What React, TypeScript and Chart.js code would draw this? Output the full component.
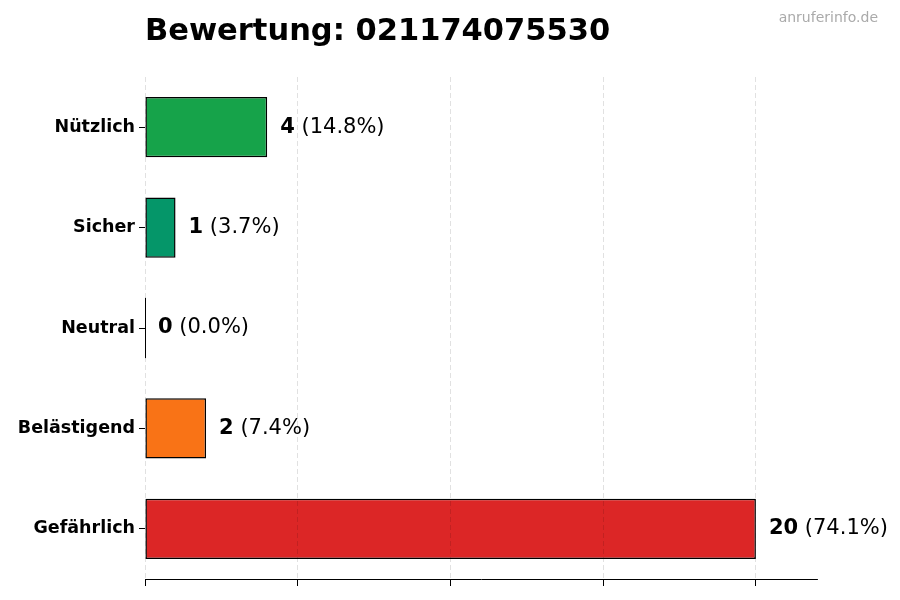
import { useEffect, useRef } from 'react';
import { Chart, registerables } from 'chart.js';

Chart.register(...registerables);

const categories = ['Nützlich', 'Sicher', 'Neutral', 'Belästigend', 'Gefährlich'];
const counts = [4, 1, 0, 2, 20];
const barColors = ['#16a34a', '#059669', '#6b7280', '#f97316', '#dc2626'];
const xTicks = [0, 5, 10, 15, 20];
const titleText = 'Bewertung: 021174075530';
const watermark = 'anruferinfo.de';

const FONT = "'DejaVu Sans', sans-serif";

export default function App() {
  const canvasRef = useRef<HTMLCanvasElement | null>(null);
  const chartRef = useRef<Chart | null>(null);

  useEffect(() => {
    if (!canvasRef.current) return;
    const total = counts.reduce((a, b) => a + b, 0);

    // Title + watermark drawn relative to the chart area
    const headerPlugin = {
      id: 'header',
      afterDraw(chart: any) {
        const { ctx, chartArea } = chart;
        ctx.save();
        ctx.fillStyle = '#000';
        ctx.font = `bold 30.5px ${FONT}`;
        ctx.textBaseline = 'alphabetic';
        ctx.textAlign = 'left';
        ctx.fillText(titleText, chartArea.left, 40);
        ctx.fillStyle = '#aaaaaa';
        ctx.font = `14px ${FONT}`;
        ctx.textAlign = 'right';
        ctx.fillText(watermark, 878, 22);
        ctx.restore();
      }
    };

    // Value labels: bold count + percentage
    const valueLabels = {
      id: 'valueLabels',
      afterDatasetsDraw(chart: any) {
        const { ctx } = chart;
        const meta = chart.getDatasetMeta(0);
        ctx.save();
        meta.data.forEach((bar: any, i: number) => {
          const v = counts[i];
          if (v === 0) {
            // zero-width bar still shows its edge
            ctx.strokeStyle = '#000';
            ctx.lineWidth = 1;
            ctx.beginPath();
            ctx.moveTo(bar.x + 0.5, bar.y - bar.height / 2);
            ctx.lineTo(bar.x + 0.5, bar.y + bar.height / 2);
            ctx.stroke();
          }
          const x = bar.x + 13;
          const num = String(v);
          const pct = ` (${((v / total) * 100).toFixed(1)}%)`;
          ctx.textBaseline = 'middle';
          ctx.textAlign = 'left';
          ctx.fillStyle = '#000';
          ctx.font = `bold 21px ${FONT}`;
          ctx.fillText(num, x, bar.y);
          const w = ctx.measureText(num).width;
          ctx.font = `21px ${FONT}`;
          ctx.fillText(pct, x + w, bar.y);
        });
        ctx.restore();
      }
    };

    const config: any = {
      type: 'bar',
      data: {
        labels: categories,
        datasets: [{
          data: counts,
          backgroundColor: barColors,
          borderColor: '#000',
          borderWidth: 1.5,
          borderSkipped: false,
          barPercentage: 0.6,
          categoryPercentage: 1
        }]
      },
      options: {
        indexAxis: 'y',
        animation: false,
        responsive: false,
        layout: { padding: { left: 0, top: 77, right: 83, bottom: 0 } },
        plugins: {
          legend: { display: false },
          title: { display: false },
          tooltip: { enabled: false }
        },
        scales: {
          x: {
            min: 0,
            max: 22,
            afterFit: (scale: any) => { scale.height = 21; },
            afterBuildTicks: (scale: any) => {
              scale.ticks = xTicks.map(v => ({ value: v }));
            },
            ticks: { display: false },
            grid: {
              color: 'rgba(0,0,0,0.15)',
              lineWidth: 0.8,
              tickColor: '#000',
              tickLength: 7,
              tickWidth: 1,
              z: 1
            },
            border: { display: true, color: '#000', width: 1, dash: [5, 3], z: 1 }
          },
          y: {
            afterFit: (scale: any) => { scale.width = 145; },
            ticks: {
              color: '#000',
              padding: 4,
              font: { family: FONT, size: 17.5, weight: 'bold' }
            },
            grid: {
              offset: false,
              drawOnChartArea: false,
              drawTicks: true,
              tickLength: 6,
              tickColor: '#000',
              color: '#000'
            },
            border: { display: false }
          }
        }
      },
      plugins: [headerPlugin, valueLabels]
    };

    chartRef.current = new Chart(canvasRef.current, config);
    return () => {
      chartRef.current?.destroy();
      chartRef.current = null;
    };
  }, []);

  return (
    <div style={{ position: 'fixed', left: 0, top: 0, width: 900, height: 600, background: '#fff' }}>
      <canvas ref={canvasRef} width={900} height={600} style={{ width: 900, height: 600 }} />
    </div>
  );
}
